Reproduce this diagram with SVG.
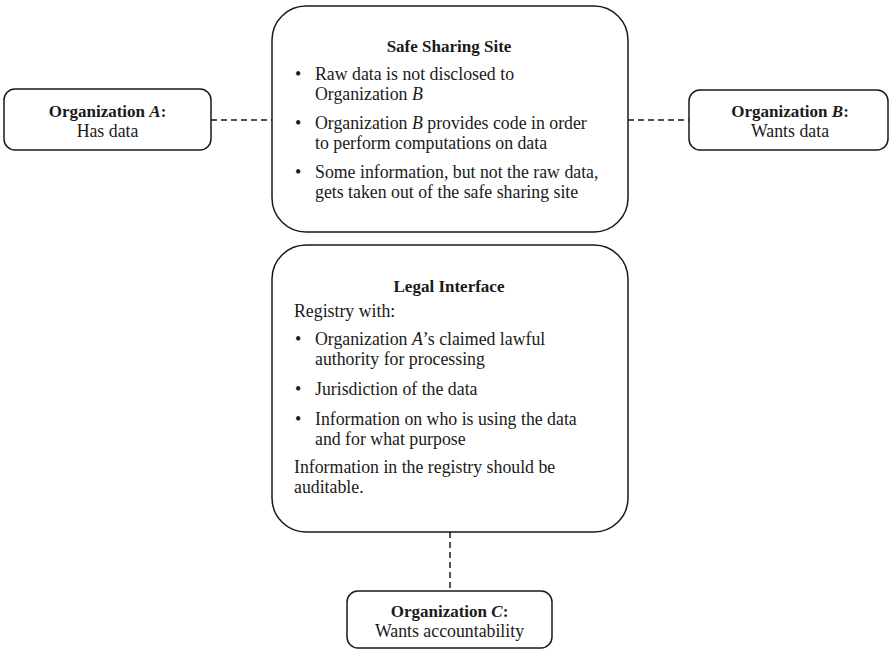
<svg xmlns="http://www.w3.org/2000/svg" width="892" height="650" viewBox="0 0 892 650">
<style>
.box{fill:#fff;stroke:#1a1a1a;stroke-width:1.5}
.conn{stroke:#1a1a1a;stroke-width:1.5;stroke-dasharray:6,4;fill:none}
text{font-family:"Liberation Serif","Times New Roman",serif;fill:#1a1a1a}
.t{font-size:17.8px}
.b{font-size:17px;font-weight:bold}
.c{text-anchor:middle}
.i{font-style:italic}
</style>
<rect width="892" height="650" fill="#fff"/>
<g id="connectors">
<line class="conn" x1="211" y1="120" x2="272" y2="120"/>
<line class="conn" x1="628" y1="120" x2="689" y2="120"/>
<line class="conn" x1="450" y1="532" x2="450" y2="591"/>
</g>
<g id="orgA">
<rect class="box" x="4" y="89" width="207" height="61" rx="11"/>
<text class="b c" x="107.5" y="117">Organization <tspan class="i">A</tspan>:</text>
<text class="t c" x="107.5" y="137">Has data</text>
</g>
<g id="orgB">
<rect class="box" x="689" y="90" width="199" height="60" rx="11"/>
<text class="b c" x="790" y="117">Organization <tspan class="i">B</tspan>:</text>
<text class="t c" x="790" y="137">Wants data</text>
</g>
<g id="safe">
<rect class="box" x="272" y="6" width="356" height="226" rx="34"/>
<text class="b c" x="449" y="52">Safe Sharing Site</text>
<text class="t" x="295" y="80">•</text>
<text class="t" x="315" y="80">Raw data is not disclosed to</text>
<text class="t" x="315" y="100">Organization <tspan class="i">B</tspan></text>
<text class="t" x="295" y="129">•</text>
<text class="t" x="315" y="129">Organization <tspan class="i">B</tspan> provides code in order</text>
<text class="t" x="315" y="149">to perform computations on data</text>
<text class="t" x="295" y="178">•</text>
<text class="t" x="315" y="178">Some information, but not the raw data,</text>
<text class="t" x="315" y="198">gets taken out of the safe sharing site</text>
</g>
<g id="legal">
<rect class="box" x="272" y="245" width="356" height="287" rx="34"/>
<text class="b c" x="449" y="292">Legal Interface</text>
<text class="t" x="294" y="317">Registry with:</text>
<text class="t" x="295" y="345">•</text>
<text class="t" x="315" y="345">Organization <tspan class="i">A</tspan>’s claimed lawful</text>
<text class="t" x="315" y="365">authority for processing</text>
<text class="t" x="295" y="395">•</text>
<text class="t" x="315" y="395">Jurisdiction of the data</text>
<text class="t" x="295" y="425">•</text>
<text class="t" x="315" y="425">Information on who is using the data</text>
<text class="t" x="315" y="445">and for what purpose</text>
<text class="t" x="294" y="473">Information in the registry should be</text>
<text class="t" x="294" y="493">auditable.</text>
</g>
<g id="orgC">
<rect class="box" x="347" y="591" width="205" height="57" rx="11"/>
<text class="b c" x="449.5" y="617">Organization <tspan class="i">C</tspan>:</text>
<text class="t c" x="449.5" y="637">Wants accountability</text>
</g>
</svg>
